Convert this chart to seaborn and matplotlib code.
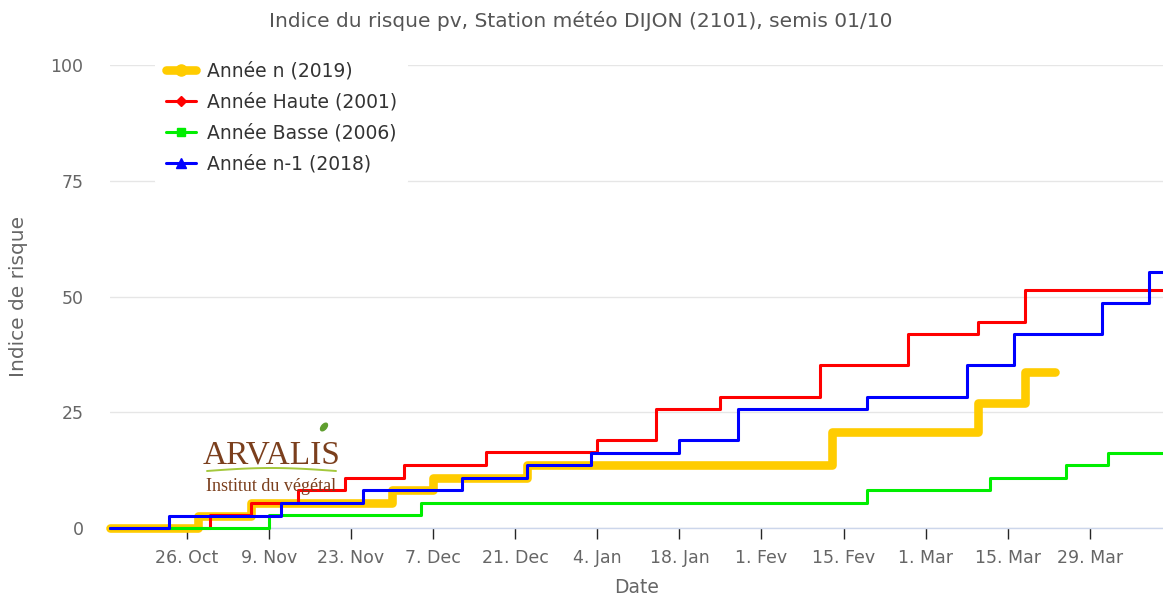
import numpy as np
import pandas as pd
import matplotlib
matplotlib.use("Agg")
import matplotlib.pyplot as plt
from matplotlib.lines import Line2D
from matplotlib.patches import Ellipse
from matplotlib.transforms import IdentityTransform
import seaborn as sns

# ---------------- data ----------------
title = "Indice du risque pv, Station météo DIJON (2101), semis 01/10"
series_names = ["Année n (2019)", "Année Haute (2001)", "Année Basse (2006)", "Année n-1 (2018)"]

yellow_dates = ["2018-10-13", "2018-10-28", "2018-11-06", "2018-11-30", "2018-12-07",
                "2018-12-23", "2019-02-13", "2019-03-10", "2019-03-18", "2019-03-23"]
yellow_vals = [0.0, 2.5, 5.4, 8.2, 10.8, 13.6, 20.7, 27.0, 33.8, 33.8]

red_dates = ["2018-10-13", "2018-10-30", "2018-11-06", "2018-11-14", "2018-11-22",
             "2018-12-02", "2018-12-16", "2019-01-04", "2019-01-14", "2019-01-25",
             "2019-02-11", "2019-02-26", "2019-03-10", "2019-03-18", "2019-04-11"]
red_vals = [0.0, 2.7, 5.5, 8.1, 10.8, 13.6, 16.4, 19.1, 25.8, 28.4,
            35.2, 41.9, 44.6, 51.3, 51.3]

green_dates = ["2018-10-13", "2018-11-09", "2018-12-05", "2019-02-19", "2019-03-12",
               "2019-03-25", "2019-04-01", "2019-04-11"]
green_vals = [0.0, 2.7, 5.4, 8.2, 10.8, 13.6, 16.3, 16.3]

blue_dates = ["2018-10-13", "2018-10-23", "2018-11-11", "2018-11-25", "2018-12-12",
              "2018-12-23", "2019-01-03", "2019-01-18", "2019-01-28", "2019-02-19",
              "2019-03-08", "2019-03-16", "2019-03-31", "2019-04-08", "2019-04-11"]
blue_vals = [0.0, 2.6, 5.4, 8.2, 10.9, 13.6, 16.3, 19.1, 25.8, 28.4,
             35.1, 41.9, 48.7, 55.2, 55.2]

tick_dates = ["2018-10-26", "2018-11-09", "2018-11-23", "2018-12-07", "2018-12-21",
              "2019-01-04", "2019-01-18", "2019-02-01", "2019-02-15", "2019-03-01",
              "2019-03-15", "2019-03-29"]
tick_labels = ["26. Oct", "9. Nov", "23. Nov", "7. Dec", "21. Dec", "4. Jan",
               "18. Jan", "1. Fev", "15. Fev", "1. Mar", "15. Mar", "29. Mar"]
y_ticks = [0, 25, 50, 75, 100]

# ---------------- style ----------------
sns.set_theme(style="white")
plt.rcParams["font.family"] = ["DejaVu Sans"]

W, H = 1163, 595
fig = plt.figure(figsize=(W / 100, H / 100), dpi=100)
ax = fig.add_axes([110 / W, (H - 528) / H, (1163 - 110) / W, (528 - 65) / H])

colors = ["#FFCC00", "#FF0000", "#00EE00", "#0000FF"]
widths = [6.2, 2.2, 2.2, 2.2]
all_data = [(yellow_dates, yellow_vals), (red_dates, red_vals),
            (green_dates, green_vals), (blue_dates, blue_vals)]

for name, (d, v), c, lw in zip(series_names, all_data, colors, widths):
    df = pd.DataFrame({"date": pd.to_datetime(d), "val": v})
    sns.lineplot(data=df, x="date", y="val", ax=ax, color=c, linewidth=lw,
                 drawstyle="steps-post", legend=False, clip_on=False,
                 solid_capstyle="round", solid_joinstyle="round",
                 zorder=3 if lw < 3 else 2)

ax.set_xlim(pd.Timestamp("2018-10-12 22:00"), pd.Timestamp("2019-04-10 11:00"))
ax.set_ylim(0, 100)
ax.set_xticks(pd.to_datetime(tick_dates))
ax.set_xticklabels(tick_labels)
ax.set_yticks(y_ticks)
ax.set_yticklabels([str(t) for t in y_ticks])

ax.grid(axis="y", color="#e6e6e6", linewidth=1)
ax.grid(axis="x", visible=False)
for s in ["top", "right", "left"]:
    ax.spines[s].set_visible(False)
ax.spines["bottom"].set_color("#ccd6eb")
ax.spines["bottom"].set_linewidth(1)
ax.tick_params(axis="x", length=8, width=1, labelsize=12.5, labelcolor="#666666",
               pad=7, bottom=True, direction="out")
for t in ax.xaxis.get_ticklines():
    t.set_color("#ccd6eb")
ax.tick_params(axis="y", length=0, labelsize=12.5, labelcolor="#666666", pad=19)

ax.set_xlabel("Date", fontsize=13.5, color="#666666", labelpad=8)
ax.set_ylabel("Indice de risque", fontsize=14.5, color="#666666", labelpad=16)

fig.text(581 / W, 1 - 21 / H, title, ha="center", va="center", fontsize=14.5,
         color="#555555")

# legend
markers = ["o", "D", "s", "^"]
msizes = [8, 5, 6, 7]
handles = []
for name, c, lw, m, ms in zip(series_names, colors, widths, markers, msizes):
    handles.append(Line2D([], [], color=c, linewidth=lw, marker=m, markersize=ms,
                          markerfacecolor=c, markeredgecolor=c))
leg = fig.legend(handles=handles, labels=series_names, loc="upper left",
                 bbox_to_anchor=(155 / W, 1 - 50 / H), bbox_transform=fig.transFigure,
                 frameon=True, fontsize=13.5, labelcolor="#333333",
                 handlelength=1.6, handletextpad=0.55, labelspacing=0.64,
                 borderpad=0.6, borderaxespad=0)
leg.get_frame().set_facecolor("white")
leg.get_frame().set_edgecolor("none")
leg.get_frame().set_alpha(1)
leg.set_zorder(10)

# ARVALIS logo (text + decoration)
fig.text(272 / W, 1 - 463 / H, "ARVALIS", ha="center", va="baseline",
         fontsize=24, color="#7b3f1d", family="Liberation Serif")
fig.text(271 / W, 1 - 491 / H, "Institut du végétal", ha="center", va="baseline",
         fontsize=13, color="#7b3f1d", family="Liberation Serif")
sx = np.linspace(207, 336, 40)
sy = 471 - 3 * np.sin(np.pi * (sx - 207) / 129)
fig.add_artist(Line2D(sx / W, 1 - sy / H, transform=fig.transFigure,
                      color="#a4c83c", linewidth=1.4))
fig.add_artist(Ellipse((324, H - 427), 9, 5, angle=50, transform=IdentityTransform(),
                       color="#5f9e2f"))

fig.savefig("out.png", dpi=100)
